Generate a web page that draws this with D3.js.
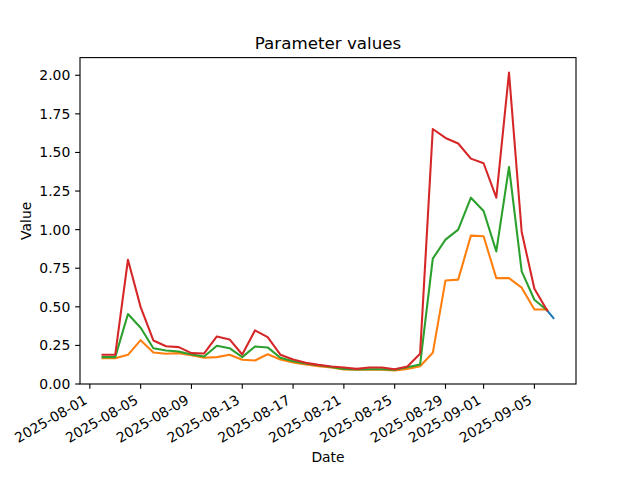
<!DOCTYPE html>
<html>
<head>
<meta charset="utf-8">
<script src="https://cdn.jsdelivr.net/npm/d3@7"></script>
<style>
  html, body { margin: 0; padding: 0; background: #fff; }
  svg { display: block; font-family: "DejaVu Sans", sans-serif; }
</style>
</head>
<body>
<svg id="chart" width="640" height="480"></svg>
<script>
// ---- data ----
const dates = ["2025-08-02","2025-08-03","2025-08-04","2025-08-05","2025-08-06","2025-08-07","2025-08-08","2025-08-09","2025-08-10","2025-08-11","2025-08-12","2025-08-13","2025-08-14","2025-08-15","2025-08-16","2025-08-17","2025-08-18","2025-08-19","2025-08-20","2025-08-21","2025-08-22","2025-08-23","2025-08-24","2025-08-25","2025-08-26","2025-08-27","2025-08-28","2025-08-29","2025-08-30","2025-08-31","2025-09-01","2025-09-02","2025-09-03","2025-09-04","2025-09-05","2025-09-06"];
const orangeValues = [0.167,0.167,0.189,0.284,0.204,0.196,0.200,0.187,0.170,0.174,0.189,0.157,0.152,0.193,0.159,0.139,0.126,0.115,0.107,0.094,0.092,0.092,0.092,0.088,0.098,0.115,0.202,0.671,0.676,0.961,0.957,0.686,0.686,0.624,0.483,0.483];
const greenValues  = [0.174,0.174,0.453,0.364,0.232,0.217,0.211,0.191,0.178,0.248,0.232,0.174,0.243,0.237,0.170,0.148,0.133,0.122,0.111,0.098,0.094,0.096,0.096,0.092,0.109,0.126,0.812,0.935,1.000,1.207,1.121,0.859,1.406,0.730,0.546,0.477];
const redValues    = [0.190,0.190,0.805,0.498,0.282,0.245,0.239,0.200,0.198,0.308,0.289,0.191,0.347,0.304,0.190,0.159,0.137,0.124,0.113,0.107,0.098,0.107,0.107,0.096,0.113,0.196,1.652,1.594,1.558,1.460,1.430,1.207,2.018,0.985,0.617,0.477];
const blueDates  = ["2025-09-06T00:00:00Z","2025-09-06T12:00:00Z"];
const blueValues = [0.477,0.427];
const xTickLabels = ["2025-08-01","2025-08-05","2025-08-09","2025-08-13","2025-08-17","2025-08-21","2025-08-25","2025-08-29","2025-09-01","2025-09-05"];
const yTicks = [0,0.25,0.5,0.75,1.0,1.25,1.5,1.75,2.0];

// ---- layout ----
const svg = d3.select("#chart");
const L = 80, R = 576, T = 57.6, B = 384;
const fs = 13.9;
const tickLen = 4.86;
const thin = 1.11;

const parse = s => new Date(s.length === 10 ? s + "T00:00:00Z" : s);
const mk = (ds, vs) => ds.map((d, i) => ({ t: parse(d), v: vs[i] }));
const series = [
  { data: mk(blueDates, blueValues), color: "#1f77b4" },
  { data: mk(dates, orangeValues), color: "#ff7f0e" },
  { data: mk(dates, greenValues), color: "#2ca02c" },
  { data: mk(dates, redValues), color: "#d62728" }
];

const allT = series.flatMap(s => s.data.map(d => +d.t));
const tMin = d3.min(allT), tMax = d3.max(allT);
const tPad = (tMax - tMin) * 0.05;
const x = d3.scaleUtc().domain([new Date(tMin - tPad), new Date(tMax + tPad)]).range([L, R]);

const allV = series.flatMap(s => s.data.map(d => d.v));
const vMin = d3.min(allV), vMax = d3.max(allV);
const y = d3.scaleLinear().domain([0, vMax + (vMax - vMin) * 0.05]).range([B, T]);

// lines
const line = d3.line().x(d => x(d.t)).y(d => y(d.v));
svg.append("clipPath").attr("id", "clip").append("rect")
  .attr("x", L).attr("y", T).attr("width", R - L).attr("height", B - T);
const g = svg.append("g").attr("clip-path", "url(#clip)");
series.forEach(s => {
  g.append("path").datum(s.data).attr("d", line)
    .attr("fill", "none").attr("stroke", s.color).attr("stroke-width", 2.08)
    .attr("stroke-linejoin", "round").attr("stroke-linecap", "square");
});

// x axis
const xTickDates = xTickLabels.map(parse);
const xAxis = svg.append("g");
xTickDates.forEach((d, i) => {
  const tx = x(d);
  xAxis.append("line").attr("x1", tx).attr("x2", tx).attr("y1", B).attr("y2", B + tickLen)
    .attr("stroke", "#000").attr("stroke-width", thin);
  xAxis.append("text")
    .attr("transform", `translate(${tx - 1.6},${B + 2 * tickLen + 9.2}) rotate(-30)`)
    .attr("text-anchor", "end").attr("font-size", fs).attr("fill", "#000")
    .text(xTickLabels[i]);
});

// y axis
const yAxis = svg.append("g");
yTicks.forEach(v => {
  const ty = y(v);
  yAxis.append("line").attr("x1", L - tickLen).attr("x2", L).attr("y1", ty).attr("y2", ty)
    .attr("stroke", "#000").attr("stroke-width", thin);
  yAxis.append("text").attr("x", L - 2 * tickLen).attr("y", ty).attr("dy", "0.36em")
    .attr("text-anchor", "end").attr("font-size", fs).attr("fill", "#000")
    .text(d3.format(".2f")(v));
});

// frame
svg.append("rect").attr("x", L).attr("y", T).attr("width", R - L).attr("height", B - T)
  .attr("fill", "none").attr("stroke", "#000").attr("stroke-width", thin);

// labels
svg.append("text").attr("x", (L + R) / 2).attr("y", 49.3).attr("text-anchor", "middle")
  .attr("font-size", 16.7).attr("fill", "#000").text("Parameter values");
svg.append("text").attr("x", (L + R) / 2).attr("y", 462).attr("text-anchor", "middle")
  .attr("font-size", fs).attr("fill", "#000").text("Date");
svg.append("text").attr("transform", `translate(31,${(T + B) / 2}) rotate(-90)`)
  .attr("text-anchor", "middle").attr("font-size", fs).attr("fill", "#000").text("Value");
</script>
</body>
</html>
